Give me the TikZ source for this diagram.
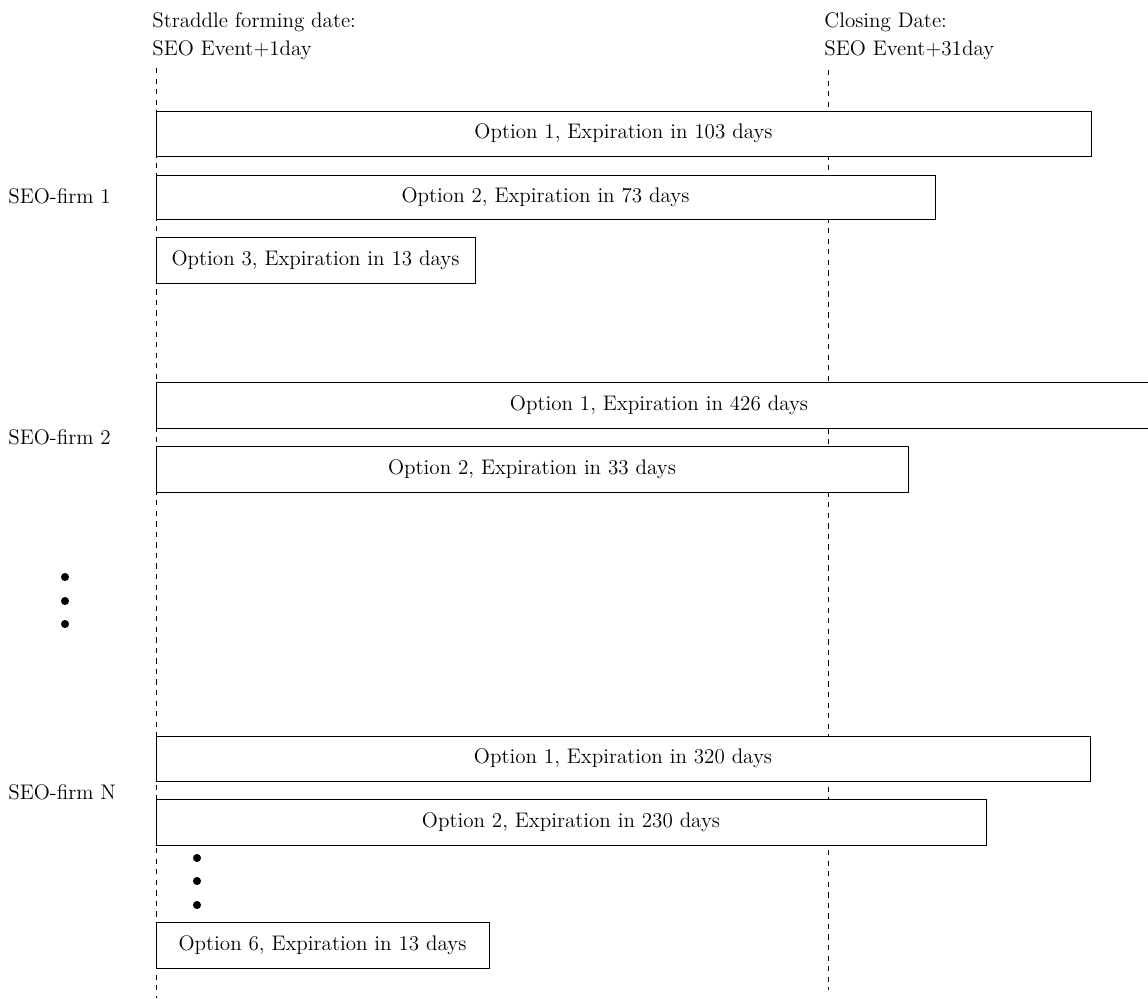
\documentclass[tikz,border=0pt]{standalone}
\usepackage{amsmath}
\usepackage{tikz}

\begin{document}
\begin{tikzpicture}[x=0.02cm,y=-0.02cm,font=\fontsize{12}{16}\selectfont]
\clip (0,0) rectangle (1148,998);
% event lines
\draw[dashed,line width=0.4pt] (156,68) -- (156,998);
\draw[dashed,line width=0.4pt] (828,70) -- (828,990);
\node[anchor=north west,align=left,inner sep=0] (start) at (152,12) {Straddle forming date:\\SEO Event+1day};
\node[anchor=north west,align=left,inner sep=0] (close) at (824,12) {Closing Date:\\SEO Event+31day};
% firms
\node[anchor=west,inner sep=0] (firmone) at (8,196) {SEO-firm 1};
\node[anchor=west,inner sep=0] (firmtwo) at (8,437) {SEO-firm 2};
\node[anchor=west,inner sep=0] (firmN) at (8,792) {SEO-firm N};
% option boxes
\foreach \name/\top/\bot/\right/\txt in {
  oneA/111/156/1091/{Option 1, Expiration in 103 days},
  oneB/175/219/935/{Option 2, Expiration in 73 days},
  oneC/237/283/475/{Option 3, Expiration in 13 days},
  twoA/382/428/1162/{Option 1, Expiration in 426 days},
  twoB/446/492/908/{Option 2, Expiration in 33 days},
  nA/736/781/1090/{Option 1, Expiration in 320 days},
  nB/799/845/986/{Option 2, Expiration in 230 days},
  nF/922/968/489/{Option 6, Expiration in 13 days}}
{
\draw[fill=white,line width=0.5pt] (156,\top) rectangle (\right,\bot);
\node (\name) at ({(156+\right)/2},{(\top+\bot)/2}) {\txt};
}
% more firms / more options
\foreach \y in {577,601,624}
{
\fill (65,\y) circle (2.3pt);
}
\foreach \y in {858,881,905}
{
\fill (197,\y) circle (2.3pt);
}
\end{tikzpicture}
\end{document}
